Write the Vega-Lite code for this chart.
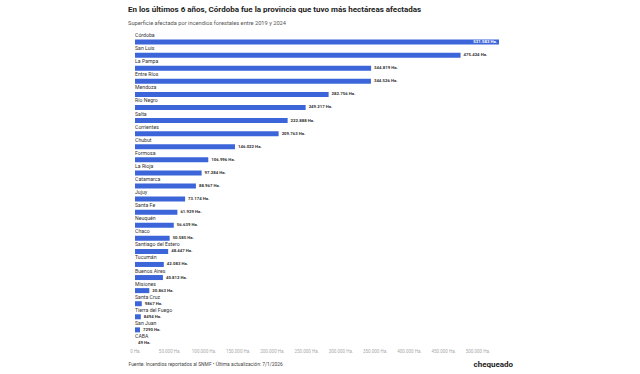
{
  "$schema": "https://vega.github.io/schema/vega-lite/v6.json",
  "width": 364,
  "height": 314,
  "padding": {"left": 128, "top": 6, "right": 5, "bottom": 0},
  "background": "white",
  "title": {
    "text": "En los últimos 6 años, Córdoba fue la provincia que tuvo más hectáreas afectadas",
    "subtitle": "Superficie afectada por incendios forestales entre 2019 y 2024",
    "anchor": "start",
    "frame": "group",
    "dx": -7,
    "font": "Roboto",
    "fontSize": 8,
    "fontWeight": "bold",
    "color": "#222222",
    "subtitleFont": "Roboto",
    "subtitleFontSize": 5.7,
    "subtitleColor": "#555555",
    "subtitlePadding": 5.5,
    "offset": 6.5
  },
  "data": {
    "values": [
      {"provincia": "Córdoba", "ha": 531583, "etiqueta": "531.583 Ha."},
      {"provincia": "San Luis", "ha": 475424, "etiqueta": "475.424 Ha."},
      {"provincia": "La Pampa", "ha": 344819, "etiqueta": "344.819 Ha."},
      {"provincia": "Entre Ríos", "ha": 344526, "etiqueta": "344.526 Ha."},
      {"provincia": "Mendoza", "ha": 282756, "etiqueta": "282.756 Ha."},
      {"provincia": "Río Negro", "ha": 249217, "etiqueta": "249.217 Ha."},
      {"provincia": "Salta", "ha": 222888, "etiqueta": "222.888 Ha."},
      {"provincia": "Corrientes", "ha": 209763, "etiqueta": "209.763 Ha."},
      {"provincia": "Chubut", "ha": 146022, "etiqueta": "146.022 Ha."},
      {"provincia": "Formosa", "ha": 106996, "etiqueta": "106.996 Ha."},
      {"provincia": "La Rioja", "ha": 97284, "etiqueta": "97.284 Ha."},
      {"provincia": "Catamarca", "ha": 88967, "etiqueta": "88.967 Ha."},
      {"provincia": "Jujuy", "ha": 73174, "etiqueta": "73.174 Ha."},
      {"provincia": "Santa Fe", "ha": 61929, "etiqueta": "61.929 Ha."},
      {"provincia": "Neuquén", "ha": 56639, "etiqueta": "56.639 Ha."},
      {"provincia": "Chaco", "ha": 50585, "etiqueta": "50.585 Ha."},
      {"provincia": "Santiago del Estero", "ha": 48447, "etiqueta": "48.447 Ha."},
      {"provincia": "Tucumán", "ha": 42083, "etiqueta": "42.083 Ha."},
      {"provincia": "Buenos Aires", "ha": 40812, "etiqueta": "40.812 Ha."},
      {"provincia": "Misiones", "ha": 20863, "etiqueta": "20.863 Ha."},
      {"provincia": "Santa Cruz", "ha": 9867, "etiqueta": "9867 Ha."},
      {"provincia": "Tierra del Fuego", "ha": 8494, "etiqueta": "8494 Ha."},
      {"provincia": "San Juan", "ha": 7290, "etiqueta": "7290 Ha."},
      {"provincia": "CABA", "ha": 49, "etiqueta": "49 Ha."}
    ]
  },
  "encoding": {
    "y": {
      "field": "provincia",
      "type": "nominal",
      "sort": null,
      "scale": {"paddingInner": 0, "paddingOuter": 0},
      "axis": {
        "labels": false,
        "ticks": false,
        "domain": false,
        "minExtent": 0,
        "maxExtent": 0,
        "offset": 0,
        "titlePadding": 0,
        "title": "chequeado",
        "titleAngle": 0,
        "titleX": 338,
        "titleY": 332,
        "titleAlign": "left",
        "titleBaseline": "middle",
        "titleFont": "Roboto",
        "titleFontSize": 8,
        "titleFontWeight": "bold",
        "titleColor": "#222222"
      }
    }
  },
  "layer": [
    {
      "mark": {"type": "bar", "height": 5, "yOffset": 3.5, "color": "#3b65d9"},
      "encoding": {
        "x": {
          "field": "ha",
          "type": "quantitative",
          "scale": {"domain": [0, 531583], "nice": false},
          "axis": {"values": [0, 50000, 100000, 150000, 200000, 250000, 300000, 350000, 400000, 450000, 500000], "labelExpr": "datum.value == 0 ? '0 Ha.' : replace(format(datum.value, ','), regexp(',', 'g'), '.') + ' Ha.'", "labelOverlap": false, "labelFlush": false, "labelBound": false, "grid": false, "ticks": false, "domain": false, "labelFont": "Roboto", "labelFontSize": 4.5, "labelColor": "#aaaaaa", "labelPadding": 2, "title": "Fuente: Incendios reportados al SNMF • Última actualización: 7/1/2026", "titleAnchor": "start", "titleAlign": "left", "titleX": -7, "titlePadding": 9, "titleFont": "Roboto", "titleFontSize": 4.9, "titleFontWeight": "normal", "titleColor": "#444444"}
        }
      }
    },
    {
      "mark": {"type": "text", "align": "left", "baseline": "middle", "dy": -3.5, "font": "Roboto", "fontSize": 5.2, "color": "#333333"},
      "encoding": {
        "x": {
          "datum": 0,
          "type": "quantitative",
          "axis": {"values": [0, 50000, 100000, 150000, 200000, 250000, 300000, 350000, 400000, 450000, 500000], "labelExpr": "datum.value == 0 ? '0 Ha.' : replace(format(datum.value, ','), regexp(',', 'g'), '.') + ' Ha.'", "labelOverlap": false, "labelFlush": false, "labelBound": false, "grid": false, "ticks": false, "domain": false, "labelFont": "Roboto", "labelFontSize": 4.5, "labelColor": "#aaaaaa", "labelPadding": 2, "title": "Fuente: Incendios reportados al SNMF • Última actualización: 7/1/2026", "titleAnchor": "start", "titleAlign": "left", "titleX": -7, "titlePadding": 9, "titleFont": "Roboto", "titleFontSize": 4.9, "titleFontWeight": "normal", "titleColor": "#444444"}
        },
        "text": {"field": "provincia"}
      }
    },
    {
      "transform": [{"filter": "datum.provincia != 'Córdoba'"}],
      "mark": {"type": "text", "align": "left", "baseline": "middle", "dy": 3.5, "dx": 3, "font": "Roboto", "fontSize": 4.3, "fontWeight": "bold", "color": "#333333"},
      "encoding": {
        "x": {
          "field": "ha",
          "type": "quantitative",
          "axis": {"values": [0, 50000, 100000, 150000, 200000, 250000, 300000, 350000, 400000, 450000, 500000], "labelExpr": "datum.value == 0 ? '0 Ha.' : replace(format(datum.value, ','), regexp(',', 'g'), '.') + ' Ha.'", "labelOverlap": false, "labelFlush": false, "labelBound": false, "grid": false, "ticks": false, "domain": false, "labelFont": "Roboto", "labelFontSize": 4.5, "labelColor": "#aaaaaa", "labelPadding": 2, "title": "Fuente: Incendios reportados al SNMF • Última actualización: 7/1/2026", "titleAnchor": "start", "titleAlign": "left", "titleX": -7, "titlePadding": 9, "titleFont": "Roboto", "titleFontSize": 4.9, "titleFontWeight": "normal", "titleColor": "#444444"}
        },
        "text": {"field": "etiqueta"}
      }
    },
    {
      "transform": [{"filter": "datum.provincia == 'Córdoba'"}],
      "mark": {"type": "text", "align": "right", "baseline": "middle", "dy": 3.5, "dx": -2, "font": "Roboto", "fontSize": 4.3, "fontWeight": "bold", "color": "#ffffff"},
      "encoding": {
        "x": {
          "field": "ha",
          "type": "quantitative",
          "axis": {"values": [0, 50000, 100000, 150000, 200000, 250000, 300000, 350000, 400000, 450000, 500000], "labelExpr": "datum.value == 0 ? '0 Ha.' : replace(format(datum.value, ','), regexp(',', 'g'), '.') + ' Ha.'", "labelOverlap": false, "labelFlush": false, "labelBound": false, "grid": false, "ticks": false, "domain": false, "labelFont": "Roboto", "labelFontSize": 4.5, "labelColor": "#aaaaaa", "labelPadding": 2, "title": "Fuente: Incendios reportados al SNMF • Última actualización: 7/1/2026", "titleAnchor": "start", "titleAlign": "left", "titleX": -7, "titlePadding": 9, "titleFont": "Roboto", "titleFontSize": 4.9, "titleFontWeight": "normal", "titleColor": "#444444"}
        },
        "text": {"field": "etiqueta"}
      }
    }
  ],
  "config": {"view": {"stroke": null}, "axisX": {"labelOverlap": false}}
}
